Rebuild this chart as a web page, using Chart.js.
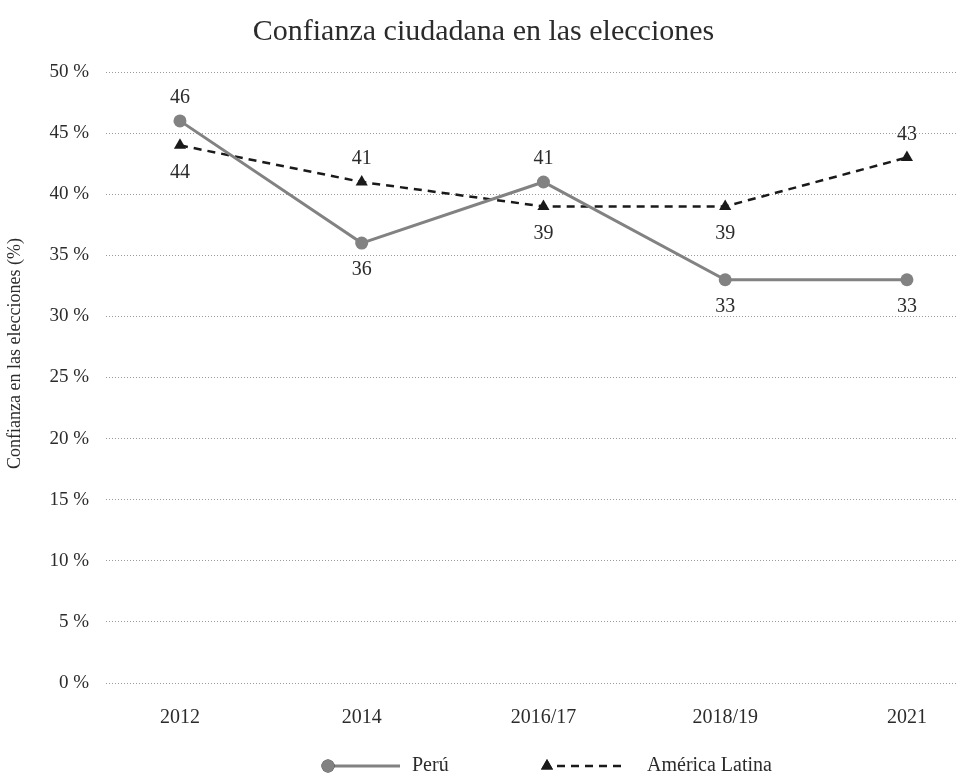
<!DOCTYPE html>
<html>
<head>
<meta charset="utf-8">
<script src="https://cdn.jsdelivr.net/npm/chart.js@4.4.1/dist/chart.umd.min.js"></script>
<style>
  html, body { margin: 0; padding: 0; background: #fff; }
  #wrap { width: 963px; height: 775px; }
</style>
</head>
<body>
<div id="wrap"><canvas id="chart"></canvas></div>
<script>
var years = ["2012", "2014", "2016/17", "2018/19", "2021"];
var peru = [46, 36, 41, 33, 33];
var latam = [44, 41, 39, 39, 43];
// where each value label sits relative to its point
var peruLabelSide = ["up", "down", "up", "down", "down"];
var latamLabelSide = ["down", "up", "down", "down", "up"];

var FONT = '"Liberation Serif", "DejaVu Serif", serif';
var INK = "#2b2b2b";
var Y_TITLE = "Confianza en las elecciones (%)";

function points(values) {
  return values.map(function (v, i) { return { x: i, y: v }; });
}

// value labels above / below each point
var valueLabels = {
  id: "valueLabels",
  afterDatasetsDraw: function (chart) {
    var ctx = chart.ctx;
    ctx.save();
    ctx.font = "20px " + FONT;
    ctx.fillStyle = INK;
    ctx.textAlign = "center";
    ctx.textBaseline = "middle";
    chart.data.datasets.forEach(function (ds, di) {
      var meta = chart.getDatasetMeta(di);
      meta.data.forEach(function (pt, i) {
        var up = ds.labelSide[i] === "up";
        ctx.fillText(String(ds.data[i].y), pt.x, pt.y + (up ? -23 : 27));
      });
    });
    ctx.restore();
  }
};

// rotated axis title, sitting a little above the middle of the plot
var sideTitle = {
  id: "sideTitle",
  afterDraw: function (chart) {
    var ctx = chart.ctx, area = chart.chartArea;
    ctx.save();
    ctx.translate(15, (area.top + area.bottom) / 2 - 24);
    ctx.rotate(-Math.PI / 2);
    ctx.font = "18px " + FONT;
    ctx.fillStyle = INK;
    ctx.textAlign = "center";
    ctx.textBaseline = "middle";
    ctx.fillText(Y_TITLE, 0, 0);
    ctx.restore();
  }
};

// legend row with line + marker samples
var lineLegend = {
  id: "lineLegend",
  afterDraw: function (chart) {
    var ctx = chart.ctx;
    var y = chart.height - 9;
    var slots = [
      { x: 328, len: 72, textGap: 12 },
      { x: 547, len: 75, textGap: 25 }
    ];
    ctx.save();
    chart.data.datasets.forEach(function (ds, di) {
      var s = slots[di];
      ctx.strokeStyle = ds.borderColor;
      ctx.lineWidth = ds.borderWidth;
      ctx.setLineDash(ds.borderDash || []);
      ctx.beginPath();
      ctx.moveTo(s.x + (di === 1 ? 10 : 0), y);
      ctx.lineTo(s.x + s.len, y);
      ctx.stroke();
      ctx.setLineDash([]);
      Chart.helpers.drawPoint(ctx, {
        pointStyle: ds.pointStyle,
        radius: ds.pointRadius,
        borderWidth: 0
      }, s.x, y);
      ctx.fillStyle = ds.pointBackgroundColor;
      ctx.fill();
      ctx.font = "20px " + FONT;
      ctx.fillStyle = INK;
      ctx.textAlign = "left";
      ctx.textBaseline = "middle";
      ctx.fillText(ds.label, s.x + s.len + s.textGap, y);
    });
    ctx.restore();
  }
};

new Chart(document.getElementById("chart"), {
  type: "line",
  data: {
    datasets: [
      {
        label: "Perú",
        data: points(peru),
        labelSide: peruLabelSide,
        borderColor: "#828282",
        backgroundColor: "#828282",
        pointBackgroundColor: "#828282",
        pointBorderWidth: 0,
        borderWidth: 3,
        pointStyle: "circle",
        pointRadius: 6.5,
        tension: 0
      },
      {
        label: "América Latina",
        data: points(latam),
        labelSide: latamLabelSide,
        borderColor: "#1a1a1a",
        backgroundColor: "#1a1a1a",
        pointBackgroundColor: "#1a1a1a",
        pointBorderWidth: 0,
        borderWidth: 2.5,
        borderDash: [8, 6],
        pointStyle: "triangle",
        pointRadius: 7,
        tension: 0
      }
    ]
  },
  options: {
    responsive: true,
    maintainAspectRatio: false,
    animation: false,
    layout: { padding: { left: 6, right: 2, top: 0, bottom: 30 } },
    plugins: {
      legend: { display: false },
      tooltip: { enabled: false },
      title: {
        display: true,
        text: "Confianza ciudadana en las elecciones",
        color: INK,
        font: { family: FONT, size: 30, weight: "normal" },
        padding: { top: 14, bottom: 22 }
      }
    },
    scales: {
      x: {
        type: "linear",
        min: -0.407,
        max: 4.27,
        afterBuildTicks: function (axis) {
          axis.ticks = years.map(function (_, i) { return { value: i }; });
        },
        ticks: {
          color: INK,
          font: { family: FONT, size: 20 },
          padding: 15,
          maxRotation: 0,
          callback: function (v) { return years[v]; }
        },
        grid: { display: false },
        border: { display: false }
      },
      y: {
        min: 0,
        max: 50,
        afterFit: function (axis) { axis.width = 100; },
        ticks: {
          stepSize: 5,
          color: INK,
          font: { family: FONT, size: 19 },
          padding: 17,
          callback: function (v) { return v + " %"; }
        },
        grid: { color: "#9a9a9a", lineWidth: 1, drawTicks: false },
        border: { display: false, dash: [1, 2] }
      }
    }
  },
  plugins: [valueLabels, sideTitle, lineLegend]
});
</script>
</body>
</html>
